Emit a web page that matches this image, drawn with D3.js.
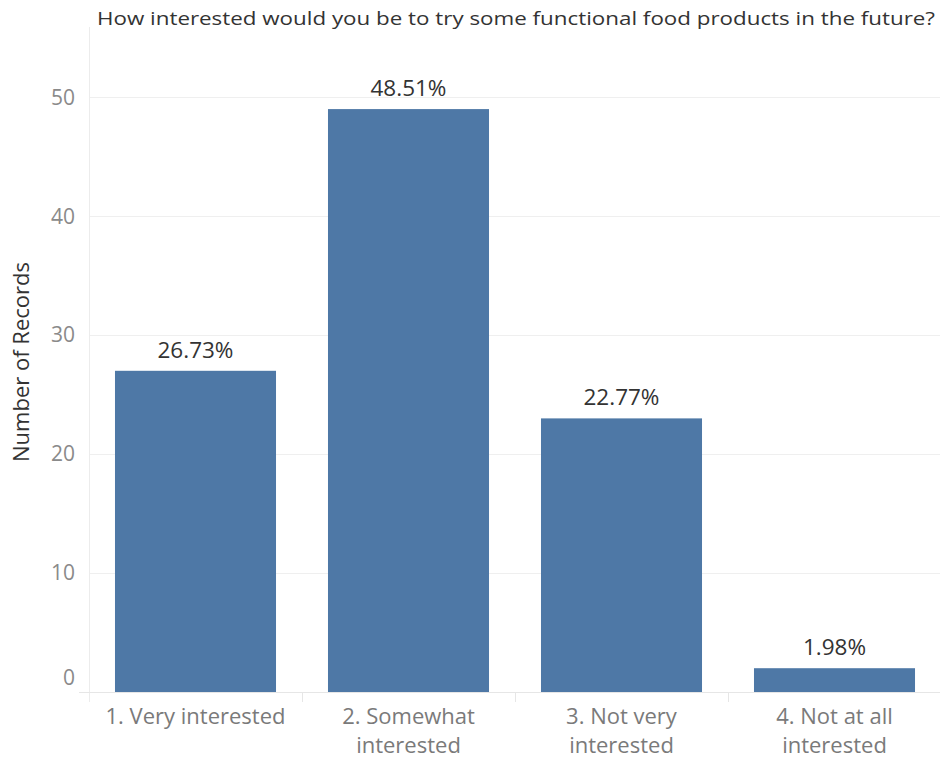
<!DOCTYPE html>
<html><head><meta charset="utf-8">
<script src="https://cdn.jsdelivr.net/npm/d3@7"></script>
<style>body{margin:0;background:#fff;}svg{display:block;font-family:"Open Sans",Lato,sans-serif;}</style>
</head><body>
<svg id="c" width="940" height="760"></svg>
<script>
const categories = ["1. Very interested", "2. Somewhat interested", "3. Not very interested", "4. Not at all interested"];
const categoryLines = [["1. Very interested"], ["2. Somewhat", "interested"], ["3. Not very", "interested"], ["4. Not at all", "interested"]];
const counts = [27, 49, 23, 2];
const percentLabels = ["26.73%", "48.51%", "22.77%", "1.98%"];
const yTicks = [0, 10, 20, 30, 40, 50];
const title = "How interested would you be to try some functional food products in the future?";

(function() {
const svg = d3.select("#c");
const pL = 89, pR = 941, pT = 27, pB = 692;
const x = d3.scaleBand().domain(categories).range([pL, pR]).paddingInner(0.244).paddingOuter(0.122);
const y = d3.scaleLinear().domain([0, 55.9]).range([pB, pT]);

svg.append("g").selectAll("line").data(yTicks.filter(d => d > 0)).join("line")
  .attr("x1", pL).attr("x2", 940).attr("y1", d => Math.round(y(d)) + 0.5).attr("y2", d => Math.round(y(d)) + 0.5)
  .attr("stroke", "#efefef").attr("stroke-width", 1);

svg.append("line").attr("x1", pL + 0.5).attr("x2", pL + 0.5).attr("y1", pT).attr("y2", pB + 10)
  .attr("stroke", "#ececec");
svg.append("line").attr("x1", 79).attr("x2", 940).attr("y1", pB + 0.5).attr("y2", pB + 0.5)
  .attr("stroke", "#e6e6e6");
svg.append("g").selectAll("line").data(categories.slice(1)).join("line")
  .attr("x1", d => Math.round(x(d) - x.step() * x.paddingInner() / 2) + 0.5)
  .attr("x2", d => Math.round(x(d) - x.step() * x.paddingInner() / 2) + 0.5)
  .attr("y1", pB).attr("y2", pB + 10).attr("stroke", "#e6e6e6");

svg.append("g").selectAll("text").data(yTicks).join("text")
  .attr("x", 75).attr("y", d => y(d) + (d === 0 ? -14 : 0)).attr("dy", "0.35em")
  .attr("text-anchor", "end").attr("font-size", 21).attr("fill", "#8a8a8a").text(d => d);

svg.append("g").selectAll("rect").data(counts).join("rect")
  .attr("x", (d, i) => x(categories[i])).attr("width", x.bandwidth())
  .attr("y", d => y(d)).attr("height", d => y(0) - y(d)).attr("fill", "#4e78a6");

svg.append("g").selectAll("text").data(counts).join("text")
  .attr("x", (d, i) => x(categories[i]) + x.bandwidth() / 2).attr("y", d => y(d) - 13)
  .attr("text-anchor", "middle").attr("font-size", 22.5).attr("fill", "#333").text((d, i) => percentLabels[i]);

const xl = svg.append("g").selectAll("text").data(categoryLines).join("text")
  .attr("text-anchor", "middle").attr("font-size", 22).attr("fill", "#7a7a7a")
  .attr("x", (d, i) => x(categories[i]) + x.bandwidth() / 2).attr("y", 724);
xl.selectAll("tspan").data(d => d).join("tspan")
  .attr("x", function() { return this.parentNode.getAttribute("x"); })
  .attr("dy", (d, j) => j === 0 ? 0 : 29).text(d => d);

svg.append("text").attr("transform", "translate(29,362) rotate(-90)").attr("text-anchor", "middle")
  .attr("font-size", 22).attr("fill", "#333").text("Number of Records");

svg.append("text").attr("x", 97).attr("y", 25).attr("font-size", 19).attr("fill", "#333")
  .attr("textLength", 838).attr("lengthAdjust", "spacingAndGlyphs").text(title);
})();
</script>
</body></html>
